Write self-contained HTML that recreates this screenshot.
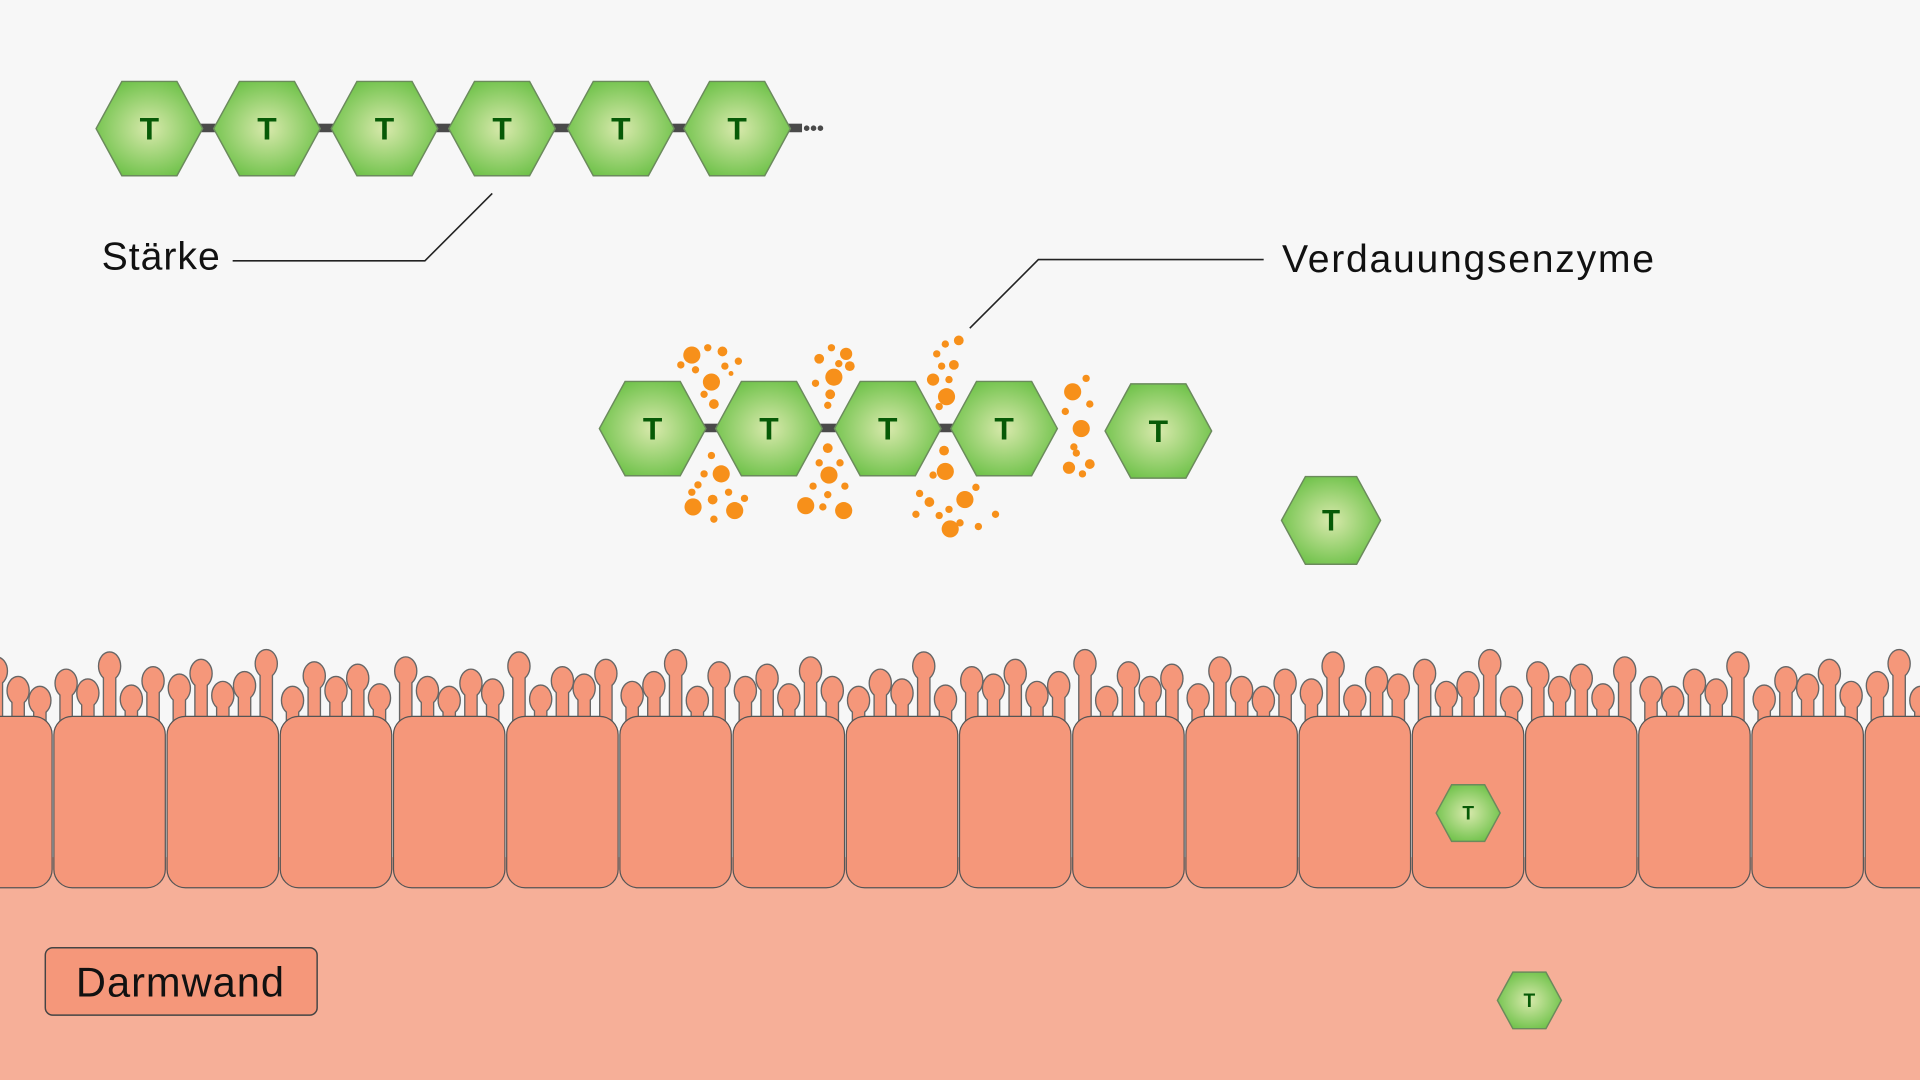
<!DOCTYPE html>
<html><head><meta charset="utf-8"><style>
html,body{margin:0;padding:0;background:#f7f7f7;}
svg{display:block;}
</style></head><body>
<svg id="s" width="1920" height="1080" viewBox="0 0 1568 882" xmlns="http://www.w3.org/2000/svg">
<defs>
<radialGradient id="hg" cx="50%" cy="50%" r="55%">
<stop offset="0" stop-color="#d8e9ac"/><stop offset="1" stop-color="#6fc24a"/>
</radialGradient>
</defs>
<rect width="1568" height="882" fill="#f7f7f7"/>
<rect x="0" y="700" width="1568" height="182" fill="#f6af98"/>
<g id="villiStroke" stroke="#666" stroke-width="2.2" fill="#666"></g>
<g id="villiFill" fill="#f5977a"></g>
<g id="cells"></g>
<g>
<rect x="122" y="101" width="533" height="7" fill="#4a4a4a"/>
<text x="656" y="110" font-family="Liberation Sans, sans-serif" font-size="16" font-weight="bold" fill="#4a4a4a">•••</text>
</g>
<rect x="533" y="346" width="287" height="7" fill="#4a4a4a"/>
<g id="hexes"></g>
<g id="dots" fill="#f7901a"></g>
<g>
<text x="83" y="220" font-family="Liberation Sans, sans-serif" font-size="32" letter-spacing="0.8" fill="#111">Stärke</text>
<polyline points="190,213 347,213 402,158" fill="none" stroke="#222" stroke-width="1.3"/>
</g>
<g>
<text x="1047" y="222" font-family="Liberation Sans, sans-serif" font-size="32" letter-spacing="1.4" fill="#111">Verdauungsenzyme</text>
<polyline points="1032,212 848,212 792,268" fill="none" stroke="#222" stroke-width="1.3"/>
</g>
<g>
<rect x="37" y="774" width="222" height="55" rx="6" fill="#f5977a" stroke="#444" stroke-width="1.2"/>
<text x="62" y="814" font-family="Liberation Sans, sans-serif" font-size="34" letter-spacing="0.8" fill="#111">Darmwand</text>
</g>
</svg>
<script>
const NS='http://www.w3.org/2000/svg';
function mk(tag,attrs,parent){const e=document.createElementNS(NS,tag);for(const k in attrs)e.setAttribute(k,attrs[k]);parent.appendChild(e);return e;}
const cellG=document.getElementById('cells');
const vs=document.getElementById('villiStroke'), vf=document.getElementById('villiFill');
const heights=[24,8,30,14,6,20,12,34,7,22,16,28,10,18,36,6,26,14];
let hi=0;
for(let i=-1;i<17;i++){
  const x=44+i*92.45, w=91;
  const r=mk('rect',{x:x,y:585,width:w,height:140,rx:15,fill:'#f5977a',stroke:'#555','stroke-width':1},cellG);
  
  
  const n=5;
  for(let j=0;j<n;j++){
    const fx=x+10+j*(w-20)/(n-1);
    const h=heights[hi%heights.length];hi++;
    const top=578-h;
    [[vs,0],[vf,1]].forEach(([g,f])=>{
      mk('rect',{x:fx-4.5,y:top,width:9,height:588-top+4},g);
      mk('ellipse',{cx:fx,cy:top,rx:8.5,ry:11},g);
    });
  }
}
const hexG=document.getElementById('hexes');
const hexX=[122,218,314,410,507,602,533,628,725,820,946,1087,1199,1249];
const hexY=[105,105,105,105,105,105,350,350,350,350,352,425,664,817];
const hexS=[1,1,1,1,1,1,1,1,1,1,1,0.93,0.6,0.6];
for(let i=0;i<hexX.length;i++){
  const cx=hexX[i],cy=hexY[i],s=hexS[i];
  const hw=43.5*s,tw=22.5*s,hh=38.5*s;
  const g=mk('g',{},hexG);
  
  
  mk('polygon',{points:`${cx-hw},${cy} ${cx-tw},${cy-hh} ${cx+tw},${cy-hh} ${cx+hw},${cy} ${cx+tw},${cy+hh} ${cx-tw},${cy+hh}`,fill:'url(#hg)',stroke:'#6b8a5c','stroke-width':1.2},g);
  const t=mk('text',{x:cx,y:cy+9*s,'text-anchor':'middle','font-family':'Liberation Sans, sans-serif','font-weight':'bold','font-size':26*s,fill:'#075a07'},g);
  t.textContent='T';
}
const dotX=[565,581,578,590,556,568,592,603,575,583,597, 589,566,600,582,575,570,581,595,608,583,565, 681,691,669,679,694,666,678,676,685, 677,658,689,676,669,686,664,690,676,672, 773,783,772,765,779,769,762,775,767, 772,788,776,771,762,759,751,748,767,784,797,799,813,775, 876,883,887,890,870,873,890,879,884,877];
const dotY=[290,312,284,287,298,302,299,295,322,330,305, 387,414,417,408,387,396,372,402,407,424,402, 308,289,293,284,299,313,322,331,297, 388,413,417,366,378,378,397,397,404,414, 324,278,281,289,298,299,310,310,332, 385,408,432,368,388,410,403,420,421,427,398,430,420,416, 320,350,309,330,336,382,379,370,387,365];
const dotR=[7,7,3,4,3,3,3,3,3,4,2, 7,7,7,4,3,3,3,3,3,3,3, 7,5,4,3,4,3,4,3,3, 7,7,7,4,3,3,3,3,3,3, 7,4,3,3,4,3,5,3,3, 7,7,7,4,3,4,3,3,3,3,3,3,3,3, 7,7,3,3,3,5,4,3,3,3];
const dg=document.getElementById('dots');
for(let i=0;i<dotX.length;i++){
  const c=mk('circle',{cx:dotX[i],cy:dotY[i],r:dotR[i]},dg);
  
  
}
</script>
</body></html>
